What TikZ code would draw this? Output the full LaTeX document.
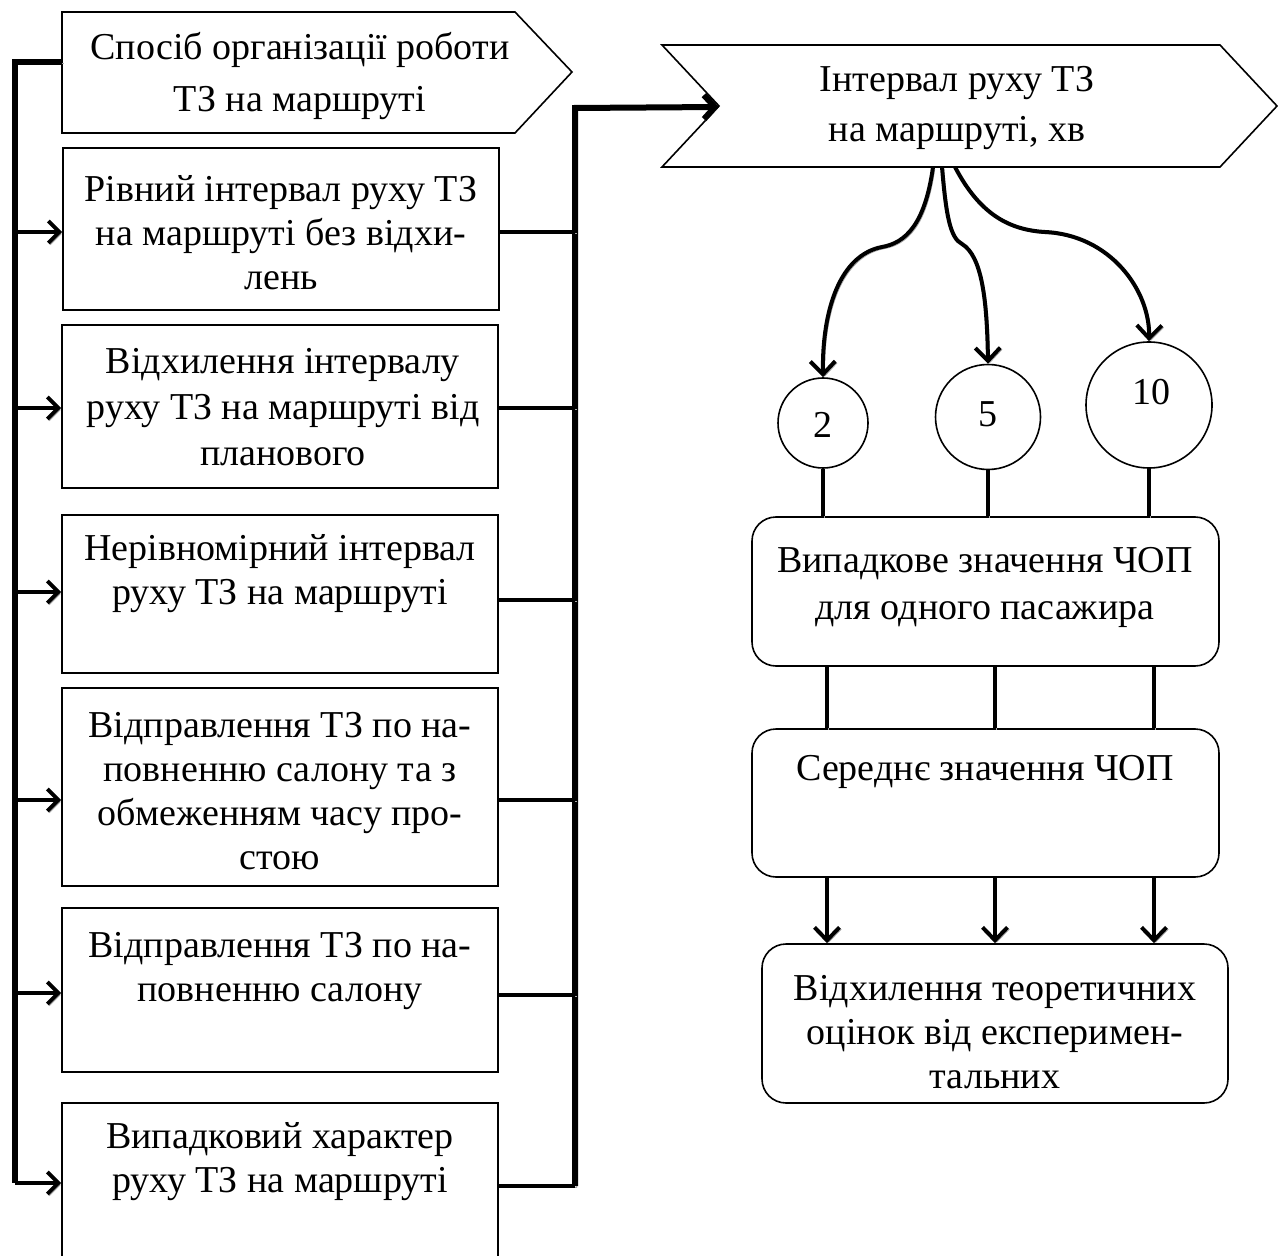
\documentclass[tikz,border=0pt]{standalone}
\usepackage{fontspec}
\setmainfont{Liberation Serif}
\usetikzlibrary{arrows.meta}
\begin{document}
\begin{tikzpicture}[x=0.5pt,y=-0.5pt,
  every node/.style={font=\fontsize{19}{22}\selectfont},
  box/.style={draw, line width=0.8pt, inner sep=0pt, minimum width=218pt},
  rbox/.style={draw, line width=0.8pt, inner sep=0pt, rounded corners=12pt, minimum width=233.5pt},
  circ/.style={draw, circle, line width=0.8pt, inner sep=0pt},
  txt/.style={align=center, inner sep=0pt},
  shad/.style={preaction={draw=black!35, transform canvas={xshift=0.9pt,yshift=-0.9pt}}},
  bus/.style={line width=3pt, shad},
  conn/.style={line width=2pt, shad},
  tip/.style={-{Straight Barb[length=5.5pt,width=11pt]}},
  bigtip/.style={-{Straight Barb[length=6.5pt,width=12.5pt]}}
]
\useasboundingbox (0,0) rectangle (1278,1256);
\clip (0,0) rectangle (1278,1256);

% left pentagon
\draw[line width=0.8pt] (62,12) -- (515,12) -- (572,72) -- (515,133) -- (62,133) -- cycle;
\coordinate (p1w) at (62,62);
\node[txt, font=\fontsize{19}{26}\selectfont] (t1) at (300,76) {Спосіб організації роботи\\ТЗ на маршруті};

% right chevron
\draw[line width=0.8pt] (662,45) -- (1220,45) -- (1277,106) -- (1220,167) -- (662,167) -- (719,106) -- cycle;
\coordinate (p2n) at (719,107);
\node[txt, font=\fontsize{19}{25}\selectfont] (t8) at (957,108) {Інтервал руху ТЗ\\на маршруті, хв};

% left boxes
\node[box, minimum height=81pt] (b2) at (281,229) {};
\node[box, minimum height=81.5pt] (b3) at (280,406.5) {};
\node[box, minimum height=79pt] (b4) at (280,594) {};
\node[box, minimum height=99pt] (b5) at (280,787) {};
\node[box, minimum height=82pt] (b6) at (280,990) {};
\node[box, minimum height=98.5pt] (b7) at (280,1201.5) {};

\node[txt] (t2) at (281,233) {Рівний інтервал руху ТЗ\\на маршруті без відхи-\\лень};
\node[txt, font=\fontsize{19}{23}\selectfont] (t3) at (283,407) {Відхилення інтервалу\\руху ТЗ на маршруті від\\планового};
\node[txt] (t4) at (280,574) {Нерівномірний інтервал\\руху ТЗ на маршруті};
\node[txt] (t5) at (280,791) {Відправлення ТЗ по на-\\повненню салону та з\\обмеженням часу про-\\стою};
\node[txt] (t6) at (280,971) {Відправлення ТЗ по на-\\повненню салону};
\node[txt] (t7) at (280,1162) {Випадковий характер\\руху ТЗ на маршруті};

% left bus
\coordinate (L0) at (15,62);
\coordinate (L7) at (15,1183);
\draw[bus] (p1w) -- (L0) -- (L7);
\draw[conn,tip] ([yshift=-1.5pt]b2.west -| L0) -- ([yshift=-1.5pt]b2.west);
\draw[conn,tip] ([yshift=-0.75pt]b3.west -| L0) -- ([yshift=-0.75pt]b3.west);
\draw[conn,tip] ([yshift=1pt]b4.west -| L0) -- ([yshift=1pt]b4.west);
\draw[conn,tip] ([yshift=-6.5pt]b5.west -| L0) -- ([yshift=-6.5pt]b5.west);
\draw[conn,tip] ([yshift=-1.5pt]b6.west -| L0) -- ([yshift=-1.5pt]b6.west);
\draw[conn,tip] (L7) -- (L7 -| b7.west);

% right bus
\coordinate (R0) at (575,108);
\coordinate (R7) at (575,1186);
\draw[bus,-{Straight Barb[length=5.5pt,width=12pt]}] (R7) -- (R0) -- (p2n);
\draw[conn] ([yshift=-1.5pt]b2.east) -- ([yshift=-1.5pt]b2.east -| R0);
\draw[conn] ([yshift=-0.75pt]b3.east) -- ([yshift=-0.75pt]b3.east -| R0);
\draw[conn] ([yshift=-3pt]b4.east) -- ([yshift=-3pt]b4.east -| R0);
\draw[conn] ([yshift=-6.5pt]b5.east) -- ([yshift=-6.5pt]b5.east -| R0);
\draw[conn] ([yshift=-2.5pt]b6.east) -- ([yshift=-2.5pt]b6.east -| R0);
\draw[conn] (R7 -| b7.east) -- (R7);

% circles
\node[circ, minimum size=45pt] (c2) at (823,423) {};
\node[circ, minimum size=52.5pt] (c5) at (988,417) {};
\node[circ, minimum size=63pt] (c10) at (1149,405) {};
\node[txt] (n2) at (823,425) {2};
\node[txt] (n5) at (988,414) {5};
\node[txt] (n10) at (1151,392) {10};

% curved arrows
\coordinate (s1) at (933,167);
\coordinate (s2) at (942,167);
\coordinate (s3) at (955,167);
\draw[conn,bigtip] (s1) .. controls (925,225) and (905,243) .. (882,247) .. controls (840,255) and (822,310) .. (c2.north);
\draw[conn,bigtip] (s2) .. controls (946,215) and (950,238) .. (962,244) .. controls (982,256) and (987,300) .. (c5.north);
\draw[conn,bigtip] (s3) .. controls (980,215) and (1010,230) .. (1045,232) .. controls (1110,235) and (1150,290) .. (c10.north);

% right boxes
\node[rbox, minimum height=74.5pt] (r1) at (985.5,591.5) {};
\node[rbox, minimum height=74pt] (r2) at (985.5,803) {};
\node[rbox, minimum height=79.5pt, minimum width=233pt] (r3) at (995,1023.5) {};
\node[txt, font=\fontsize{19}{23.5}\selectfont] (tr1) at (985,587) {Випадкове значення ЧОП\\для одного пасажира};
\node[txt] (tr2) at (985,772) {Середнє значення ЧОП};
\node[txt] (tr3) at (995,1032) {Відхилення теоретичних\\оцінок від експеримен-\\тальних};

% vertical connectors
\draw[conn] (c2.south) -- (c2.south |- r1.north);
\draw[conn] (c5.south) -- (c5.south |- r1.north);
\draw[conn] (c10.south) -- (c10.south |- r1.north);
\coordinate (v1) at (827,0);
\coordinate (v2) at (995,0);
\coordinate (v3) at (1154,0);
\draw[conn] (v1 |- r1.south) -- (v1 |- r2.north);
\draw[conn] (v2 |- r1.south) -- (v2 |- r2.north);
\draw[conn] (v3 |- r1.south) -- (v3 |- r2.north);
\draw[conn,bigtip] (v1 |- r2.south) -- (v1 |- r3.north);
\draw[conn,bigtip] (v2 |- r2.south) -- (v2 |- r3.north);
\draw[conn,bigtip] (v3 |- r2.south) -- (v3 |- r3.north);
\end{tikzpicture}
\end{document}
